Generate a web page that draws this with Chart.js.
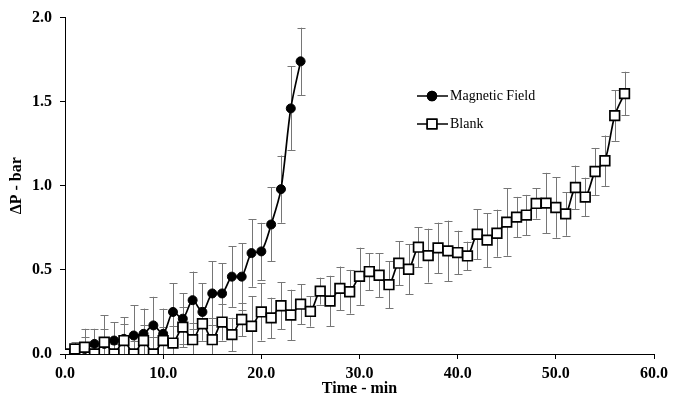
<!DOCTYPE html>
<html lang="en">
<head>
    <meta charset="UTF-8">
    <title>ΔP vs Time</title>
    <script src="https://cdn.jsdelivr.net/npm/chart.js"></script>
    <style>
        body { margin: 0; background: #fff; }
        #box { width: 673px; height: 403px; position: relative; }
    </style>
</head>
<body>
    <div id="box">
        <canvas id="grafico"></canvas>
    </div>

    <script>
        // tempo (min) e queda de pressão (bar)
        const tempoMagnetico = [0, 1, 2, 3, 4, 5, 6, 7, 8, 9, 10, 11, 12, 13, 14, 15, 16, 17, 18, 19, 20, 21, 22, 23, 24];
        const dpMagnetico = [0, 0.02, 0.03, 0.06, 0.06, 0.08, 0.09, 0.11, 0.12, 0.17, 0.12, 0.25, 0.21, 0.32, 0.25,
            0.36, 0.36, 0.46, 0.46, 0.60, 0.61, 0.77, 0.98, 1.46, 1.74];
        const erroMagnetico = [0, 0.05, 0.12, 0.09, 0.17, 0.11, 0.13, 0.18, 0.15, 0.17, 0.15, 0.17, 0.15, 0.17, 0.17,
            0.19, 0.18, 0.18, 0.2, 0.2, 0.17, 0.22, 0.2, 0.25, 0.2];

        const tempoBranco = [0, 1, 2, 3, 4, 5, 6, 7, 8, 9, 10, 11, 12, 13, 14, 15, 16, 17, 18, 19, 20, 21, 22, 23, 24,
            25, 26, 27, 28, 29, 30, 31, 32, 33, 34, 35, 36, 37, 38, 39, 40, 41, 42, 43, 44, 45, 46, 47, 48, 49, 50,
            51, 52, 53, 54, 55, 56, 57];
        const dpBranco = [0, 0.03, 0.04, 0, 0.07, 0, 0.08, 0, 0.08, 0, 0.08, 0.065, 0.16, 0.085, 0.18, 0.085, 0.19,
            0.115, 0.205, 0.165, 0.25, 0.215, 0.287, 0.232, 0.296, 0.253, 0.374, 0.315, 0.39, 0.37, 0.462, 0.49,
            0.468, 0.412, 0.54, 0.504, 0.635, 0.585, 0.631, 0.613, 0.603, 0.583, 0.712, 0.677, 0.718, 0.784, 0.814,
            0.826, 0.895, 0.897, 0.871, 0.833, 0.99, 0.933, 1.085, 1.149, 1.417, 1.548];
        const erroBranco = [0, 0.03, 0.06, 0.05, 0.08, 0.06, 0.1, 0.08, 0.09, 0.1, 0.08, 0.1, 0.12, 0.1, 0.1, 0.13,
            0.11, 0.1, 0.1, 0.18, 0.17, 0.12, 0.14, 0.15, 0.12, 0.09, 0.08, 0.15, 0.13, 0.13, 0.17, 0.11, 0.13, 0.14,
            0.13, 0.15, 0.12, 0.16, 0.15, 0.18, 0.13, 0.085, 0.15, 0.16, 0.14, 0.2, 0.12, 0.12, 0.09, 0.18, 0.18,
            0.13, 0.13, 0.115, 0.14, 0.15, 0.15, 0.13];

        const fonteSerif = 'Liberation Serif';

        function montarPontos(xs, ys, erros) {
            return xs.map((x, i) => ({ x: x, y: ys[i], erro: erros[i] }));
        }

        // barras de erro desenhadas pelas escalas do próprio gráfico
        const barrasErro = {
            id: 'barrasErro',
            beforeDatasetsDraw(chart) {
                const ctx = chart.ctx;
                const area = chart.chartArea;
                const sx = chart.scales.x;
                const sy = chart.scales.y;
                ctx.save();
                ctx.beginPath();
                ctx.rect(area.left, area.top - 10, area.right - area.left, area.bottom - area.top + 10);
                ctx.clip();
                ctx.strokeStyle = '#767676';
                ctx.lineWidth = 1;
                chart.data.datasets.forEach(ds => {
                    ds.data.forEach(p => {
                        if (!p.erro) return;
                        const px = Math.round(sx.getPixelForValue(p.x)) + 0.5;
                        const topo = sy.getPixelForValue(p.y + p.erro);
                        const base = sy.getPixelForValue(p.y - p.erro);
                        ctx.beginPath();
                        ctx.moveTo(px, topo);
                        ctx.lineTo(px, base);
                        ctx.moveTo(px - 4, Math.round(topo) + 0.5);
                        ctx.lineTo(px + 4, Math.round(topo) + 0.5);
                        ctx.moveTo(px - 4, Math.round(base) + 0.5);
                        ctx.lineTo(px + 4, Math.round(base) + 0.5);
                        ctx.stroke();
                    });
                });
                ctx.restore();
            }
        };

        // legenda dentro da área do gráfico
        const legendaInterna = {
            id: 'legendaInterna',
            afterDraw(chart) {
                const ctx = chart.ctx;
                const itens = [
                    { texto: 'Magnetic Field', ds: chart.data.datasets[1], y: 96 },
                    { texto: 'Blank', ds: chart.data.datasets[0], y: 124 }
                ];
                ctx.save();
                itens.forEach(it => {
                    ctx.strokeStyle = '#000';
                    ctx.lineWidth = 1.5;
                    ctx.beginPath();
                    ctx.moveTo(417, it.y);
                    ctx.lineTo(448, it.y);
                    ctx.stroke();
                    Chart.helpers.drawPoint(ctx, {
                        pointStyle: it.ds.pointStyle,
                        radius: it.ds.pointRadius,
                        borderWidth: it.ds.pointBorderWidth
                    }, 432, it.y);
                    ctx.fillStyle = it.ds.pointBackgroundColor;
                    ctx.strokeStyle = '#000';
                    ctx.fill();
                    ctx.stroke();
                    ctx.fillStyle = '#000';
                    ctx.font = '14px "' + fonteSerif + '"';
                    ctx.textBaseline = 'middle';
                    ctx.textAlign = 'left';
                    ctx.fillText(it.texto, 450, it.y);
                });
                ctx.restore();
            }
        };

        const ctx = document.getElementById('grafico').getContext('2d');
        new Chart(ctx, {
            type: 'line',
            data: {
                datasets: [{
                    label: 'Blank',
                    data: montarPontos(tempoBranco, dpBranco, erroBranco),
                    borderColor: '#000',
                    borderWidth: 1.7,
                    tension: 0.3,
                    pointStyle: 'rect',
                    pointRadius: 6.8,
                    pointBorderWidth: 1.7,
                    pointBackgroundColor: '#fff',
                    pointBorderColor: '#000'
                }, {
                    label: 'Magnetic Field',
                    data: montarPontos(tempoMagnetico, dpMagnetico, erroMagnetico),
                    borderColor: '#000',
                    borderWidth: 1.7,
                    tension: 0.3,
                    pointStyle: 'circle',
                    pointRadius: 4.5,
                    pointBorderWidth: 1,
                    pointBackgroundColor: '#000',
                    pointBorderColor: '#000'
                }]
            },
            options: {
                responsive: true,
                maintainAspectRatio: false,
                animation: false,
                layout: { padding: { left: 0, right: 16, top: 17, bottom: 0 } },
                plugins: {
                    legend: { display: false },
                    tooltip: { enabled: false }
                },
                scales: {
                    x: {
                        type: 'linear',
                        min: 0,
                        max: 60,
                        border: { display: true, color: '#000', width: 1 },
                        grid: { drawOnChartArea: false, drawTicks: true, tickLength: 5, color: '#000' },
                        ticks: {
                            stepSize: 10,
                            padding: 5,
                            color: '#000',
                            maxRotation: 0,
                            font: { family: fonteSerif, size: 16, weight: 'bold' },
                            callback: v => v.toFixed(1)
                        },
                        title: {
                            display: true,
                            text: 'Time - min',
                            color: '#000',
                            padding: { top: 0, bottom: 5 },
                            font: { family: fonteSerif, size: 16, weight: 'bold' }
                        },
                        afterFit: s => { s.height = 49; }
                    },
                    y: {
                        min: 0,
                        max: 2,
                        border: { display: true, color: '#000', width: 1 },
                        grid: { drawOnChartArea: false, drawTicks: true, tickLength: 5, color: '#000' },
                        ticks: {
                            stepSize: 0.5,
                            padding: 8,
                            color: '#000',
                            font: { family: fonteSerif, size: 16, weight: 'bold' },
                            callback: v => v.toFixed(1)
                        },
                        title: {
                            display: true,
                            text: 'ΔP - bar',
                            color: '#000',
                            padding: { top: 7, bottom: 0 },
                            font: { family: fonteSerif, size: 16, weight: 'bold' }
                        },
                        afterFit: s => { s.width = 65; }
                    }
                }
            },
            plugins: [barrasErro, legendaInterna]
        });
    </script>
</body>
</html>
